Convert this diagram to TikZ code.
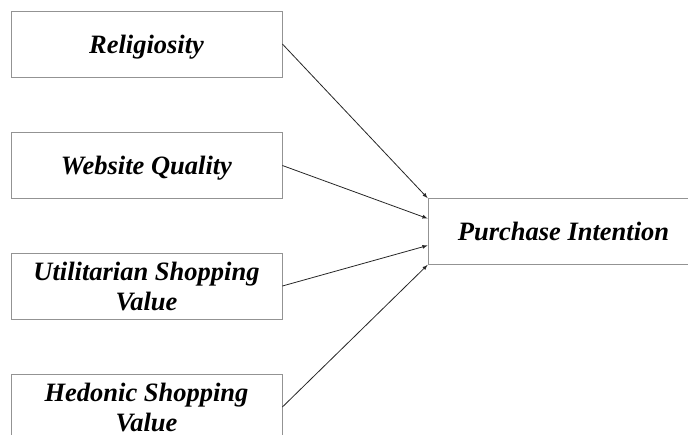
\documentclass[tikz,border=0pt]{standalone}
\usepackage{fontspec}
\setmainfont{Liberation Serif}
\usepackage{tikz}
\usepackage{xcolor}
\begin{document}
\begin{tikzpicture}[x=1pt,y=-1pt,
	varbox/.style={draw=gray!85, line width=0.8pt, minimum width=271pt, minimum height=66pt,
		inner sep=0pt, text depth=0pt, align=center, font=\fontsize{26.5}{30}\selectfont\bfseries\itshape},
	link/.style={draw=black!85, line width=0.8pt, -latex}]
				\clip (0,0) rectangle (688,434);
				\node [varbox] (rel) at (146.5,44) {Religiosity};
				\node [varbox] (web) at (146.5,165.5) {Website Quality};
				\node [varbox] (util) at (146.5,286) {Utilitarian Shopping\\Value};
				\node [varbox] (hed) at (146.5,407) {Hedonic Shopping\\Value};
				\node [varbox] (pi) at (563.5,231.5) {Purchase Intention};
				\draw [link] (rel.east) -- (pi.north west);
				\draw [link] (web.east) -- ([yshift=13pt]pi.west);
				\draw [link] (util.east) -- ([yshift=-14pt]pi.west);
				\draw [link] (hed.east) -- (pi.south west);
\end{tikzpicture}
\end{document}
